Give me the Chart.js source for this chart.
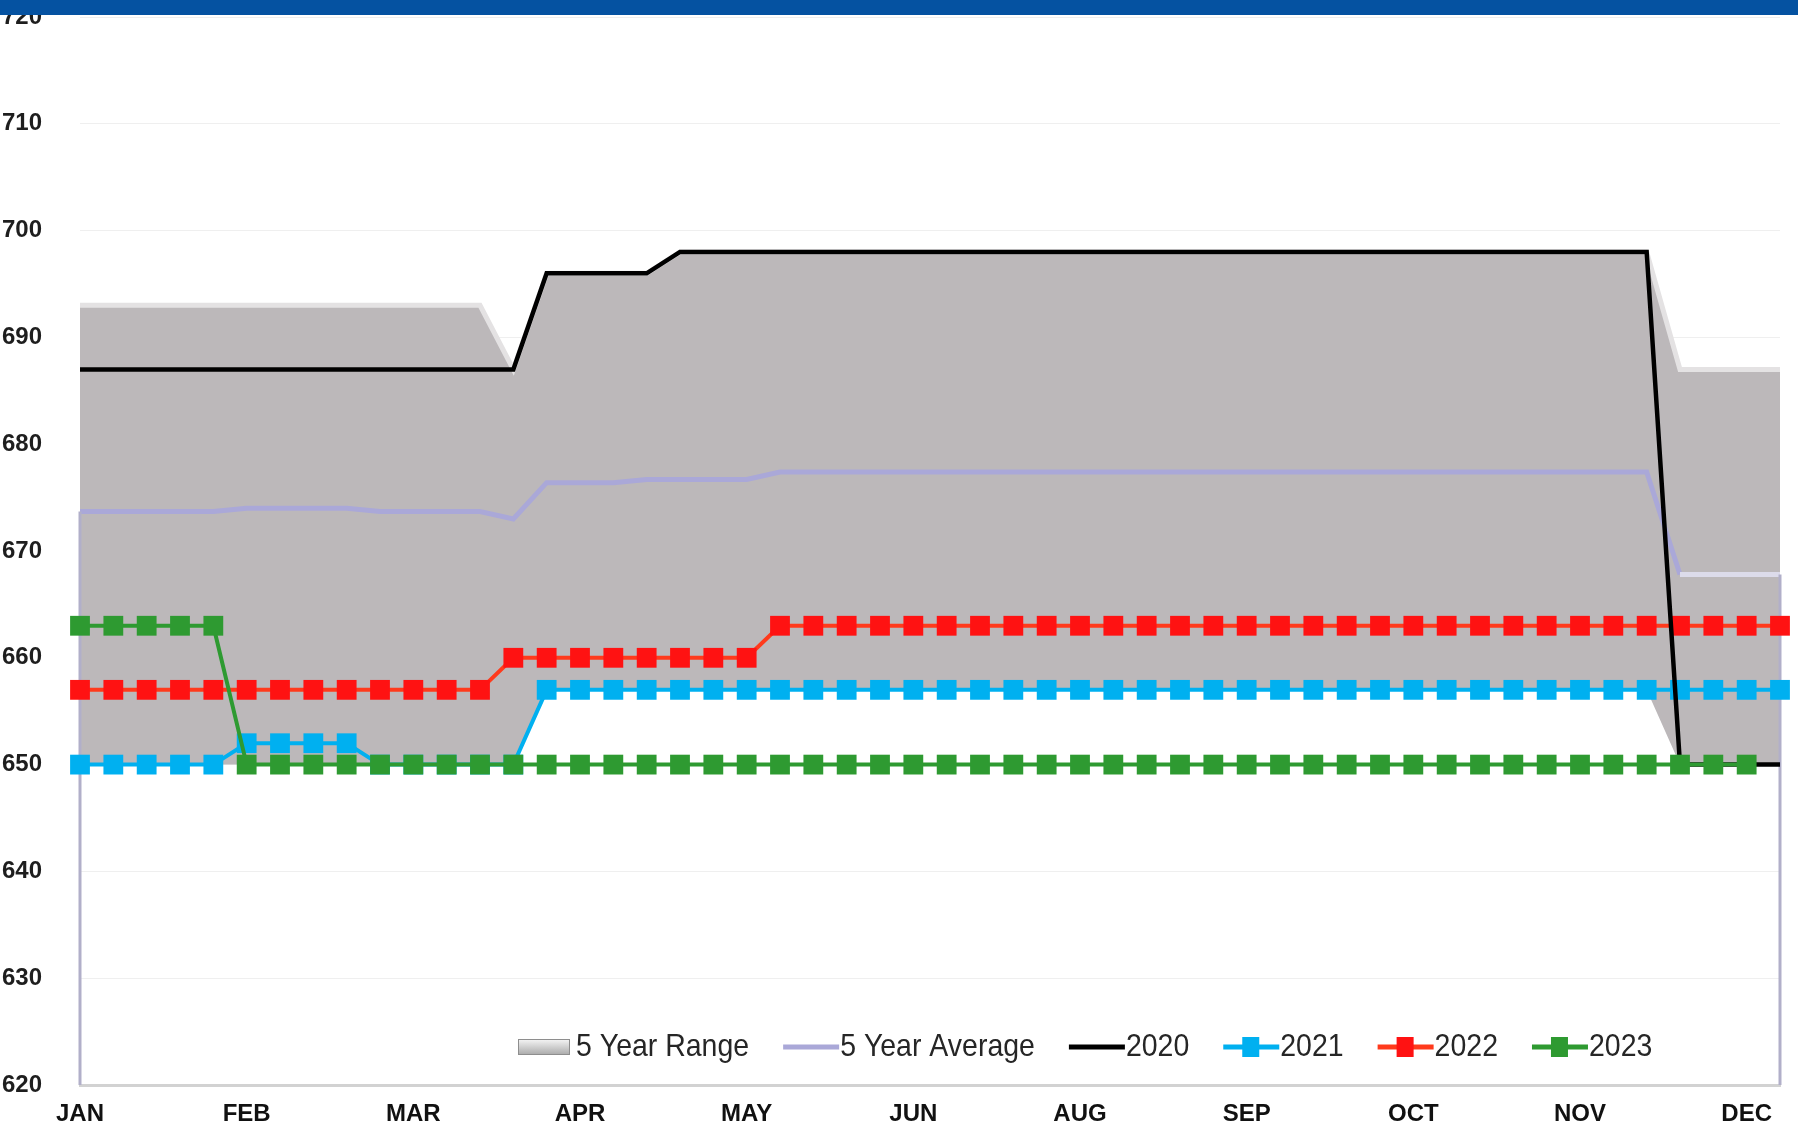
<!DOCTYPE html>
<html>
<head>
<meta charset="utf-8">
<title>5 Year Range</title>
<script src="https://cdn.jsdelivr.net/npm/chart.js@4.4.1/dist/chart.umd.min.js"></script>
<style>
  html, body { margin: 0; padding: 0; background: #ffffff; }
  #wrap { position: relative; width: 1798px; height: 1127px; }
  #topBar { position: absolute; left: 0; top: 0; width: 100%; height: 15px; background: #0552a1; }
</style>
</head>
<body>
<div id="wrap">
  <canvas id="rangoChart" width="1798" height="1127"></canvas>
  <div id="topBar"></div>
</div>
<script>
// weekly points, a month label every 5th week
const weeks = Array.from({ length: 52 }, (_, i) => i + 1);
const monthTicks = ['JAN', 'FEB', 'MAR', 'APR', 'MAY', 'JUN', 'AUG', 'SEP', 'OCT', 'NOV', 'DEC'];
const yTicks = { min: 620, max: 720, step: 10 };

const rangeHigh = [
    693, 693, 693, 693, 693, 693, 693, 693, 693, 693, 693, 693, 693,
    687, 696, 696, 696, 696,
    698, 698, 698, 698, 698, 698, 698, 698, 698, 698,
    698, 698, 698, 698, 698, 698, 698, 698, 698, 698,
    698, 698, 698, 698, 698, 698, 698, 698, 698, 698,
    687, 687, 687, 687
];
const rangeLow = [
    650, 650, 650, 650, 650, 650, 650, 650, 650, 650, 650, 650, 650, 650,
    657, 657, 657, 657, 657, 657, 657, 657, 657, 657, 657, 657, 657, 657, 657, 657, 657,
    657, 657, 657, 657, 657, 657, 657, 657, 657, 657, 657, 657, 657, 657, 657, 657, 657,
    650, 650, 650, 650
];
const fiveYearAvg = [
    673.7, 673.7, 673.7, 673.7, 673.7,
    674.0, 674.0, 674.0, 674.0,
    673.7, 673.7, 673.7, 673.7,
    673.0,
    676.4, 676.4, 676.4,
    676.7, 676.7, 676.7, 676.7,
    677.4, 677.4, 677.4, 677.4, 677.4, 677.4, 677.4, 677.4, 677.4,
    677.4, 677.4, 677.4, 677.4, 677.4, 677.4, 677.4, 677.4, 677.4,
    677.4, 677.4, 677.4, 677.4, 677.4, 677.4, 677.4, 677.4, 677.4,
    667.8, 667.8, 667.8, 667.8
];
const y2020 = [
    687, 687, 687, 687, 687, 687, 687, 687, 687, 687, 687, 687, 687, 687,
    696, 696, 696, 696,
    698, 698, 698, 698, 698, 698, 698, 698, 698, 698,
    698, 698, 698, 698, 698, 698, 698, 698, 698, 698,
    698, 698, 698, 698, 698, 698, 698, 698, 698, 698,
    650, 650, 650, 650
];
const y2021 = [
    650, 650, 650, 650, 650,
    652, 652, 652, 652,
    650, 650, 650, 650, 650,
    657, 657, 657, 657, 657, 657, 657, 657, 657, 657, 657, 657, 657,
    657, 657, 657, 657, 657, 657, 657, 657, 657, 657, 657, 657, 657,
    657, 657, 657, 657, 657, 657, 657, 657, 657, 657, 657, 657
];
const y2022 = [
    657, 657, 657, 657, 657, 657, 657, 657, 657, 657, 657, 657, 657,
    660, 660, 660, 660, 660, 660, 660, 660,
    663, 663, 663, 663, 663, 663, 663, 663, 663, 663,
    663, 663, 663, 663, 663, 663, 663, 663, 663, 663,
    663, 663, 663, 663, 663, 663, 663, 663, 663, 663, 663
];
const y2023 = [
    663, 663, 663, 663, 663,
    650, 650, 650, 650, 650, 650, 650, 650, 650, 650, 650, 650, 650, 650, 650,
    650, 650, 650, 650, 650, 650, 650, 650, 650, 650, 650, 650, 650, 650, 650,
    650, 650, 650, 650, 650, 650, 650, 650, 650, 650, 650, 650, 650, 650, 650, 650
];

const tickFont = { family: '"Liberation Sans", Arial, sans-serif', size: 24, weight: 'bold' };

// vertical drop lines from the average down to the axis at both ends
const edgeDrops = {
    id: 'edgeDrops',
    afterDatasetDraw(chart, args) {
        if (chart.data.datasets[args.index].label !== '5 Year Average') return;
        const { ctx, scales: { x, y } } = chart;
        const lastIdx = fiveYearAvg.length - 1;
        ctx.save();
        ctx.strokeStyle = '#b1afc9';
        ctx.lineWidth = 3;
        ctx.beginPath();
        ctx.moveTo(x.getPixelForValue(0), y.getPixelForValue(fiveYearAvg[0]));
        ctx.lineTo(x.getPixelForValue(0), y.bottom);
        ctx.moveTo(x.getPixelForValue(lastIdx), y.getPixelForValue(fiveYearAvg[lastIdx]));
        ctx.lineTo(x.getPixelForValue(lastIdx), y.bottom);
        ctx.stroke();
        ctx.restore();
    }
};

// legend drawn inside the plot, near the bottom; text squeezed a little
// to get the narrow look of the original legend font
const innerLegend = {
    id: 'innerLegend',
    afterDraw(chart) {
        const { ctx, chartArea } = chart;
        const items = chart.data.datasets.filter(ds => ds.label);
        const squeeze = 0.89;
        let xPos = chartArea.left + 438;
        const yPos = chartArea.bottom - 38;
        ctx.save();
        ctx.font = '32px "Liberation Sans", Arial, sans-serif';
        ctx.textBaseline = 'middle';
        items.forEach(ds => {
            if (ds.fill) {
                const g = ctx.createLinearGradient(0, yPos - 8, 0, yPos + 8);
                g.addColorStop(0, '#f6f6f6');
                g.addColorStop(1, '#a9a9a9');
                ctx.fillStyle = g;
                ctx.fillRect(xPos, yPos - 8, 52, 16);
                ctx.strokeStyle = '#8e8e8e';
                ctx.lineWidth = 1;
                ctx.strokeRect(xPos + 0.5, yPos - 7.5, 51, 15);
            } else {
                ctx.strokeStyle = ds.borderColor;
                ctx.lineWidth = 5;
                ctx.beginPath();
                ctx.moveTo(xPos + 1, yPos);
                ctx.lineTo(xPos + 57, yPos);
                ctx.stroke();
                if (ds.pointRadius > 0) {
                    ctx.fillStyle = ds.pointBackgroundColor;
                    ctx.fillRect(xPos + 20, yPos - 10, 17, 20);
                }
            }
            xPos += 58;
            ctx.fillStyle = '#262626';
            ctx.save();
            ctx.translate(xPos, yPos);
            ctx.scale(squeeze, 1);
            ctx.fillText(ds.label, 0, 0);
            ctx.restore();
            xPos += ctx.measureText(ds.label).width * squeeze + 33;
        });
        ctx.restore();
    }
};

const markerLine = (label, values, line, point, order) => ({
    label: label,
    data: values,
    borderColor: line,
    backgroundColor: point,
    pointBackgroundColor: point,
    pointBorderWidth: 0,
    pointStyle: 'rect',
    pointRadius: 14,
    borderWidth: 4,
    fill: false,
    order: order
});

const config = {
    type: 'line',
    data: {
        labels: weeks,
        datasets: [
            {
                label: '5 Year Range',
                data: rangeHigh,
                borderColor: '#e4e2e3',
                borderWidth: 5,
                backgroundColor: 'rgb(188, 184, 186)',
                pointRadius: 0,
                fill: '+1',
                order: 5
            },
            {
                label: '',
                data: rangeLow,
                borderWidth: 0,
                pointRadius: 0,
                fill: false,
                order: 6
            },
            {
                label: '5 Year Average',
                data: fiveYearAvg,
                borderColor: '#aaa8d8',
                borderWidth: 5,
                pointRadius: 0,
                fill: false,
                order: 4,
                segment: {
                    borderColor: c => c.p0DataIndex >= 48 ? '#dcdbea' : undefined
                }
            },
            {
                label: '2020',
                data: y2020,
                borderColor: '#000000',
                borderWidth: 4.5,
                pointRadius: 0,
                fill: false,
                order: 1
            },
            markerLine('2021', y2021, '#00b0f0', '#00b0f0', 3),
            markerLine('2022', y2022, '#ff3a1c', '#ff1212', 2),
            markerLine('2023', y2023, '#2e9a31', '#2e9a31', 0)
        ]
    },
    options: {
        responsive: false,
        animation: false,
        layout: { padding: { top: 17, right: 18, left: 2, bottom: 0 } },
        elements: { line: { tension: 0 } },
        scales: {
            x: {
                grid: { display: false, drawTicks: false },
                border: { display: true, color: '#d2d2d2', width: 3 },
                afterFit: function(scale) { scale.height = 42; },
                ticks: {
                    autoSkip: false,
                    maxRotation: 0,
                    padding: 15,
                    color: '#111111',
                    font: tickFont,
                    callback: function(value, index) {
                        return index % 5 === 0 ? monthTicks[index / 5] : '';
                    }
                }
            },
            y: {
                min: yTicks.min,
                max: yTicks.max,
                grid: { color: '#efefef', lineWidth: 1, drawTicks: false },
                border: { display: false },
                afterFit: function(scale) { scale.width = 78; },
                ticks: {
                    stepSize: yTicks.step,
                    crossAlign: 'far',
                    padding: 0,
                    color: '#1e1e1e',
                    font: tickFont
                }
            }
        },
        plugins: {
            legend: { display: false },
            tooltip: { enabled: false }
        }
    },
    plugins: [edgeDrops, innerLegend]
};

const ctx = document.getElementById('rangoChart').getContext('2d');
new Chart(ctx, config);
</script>
</body>
</html>
